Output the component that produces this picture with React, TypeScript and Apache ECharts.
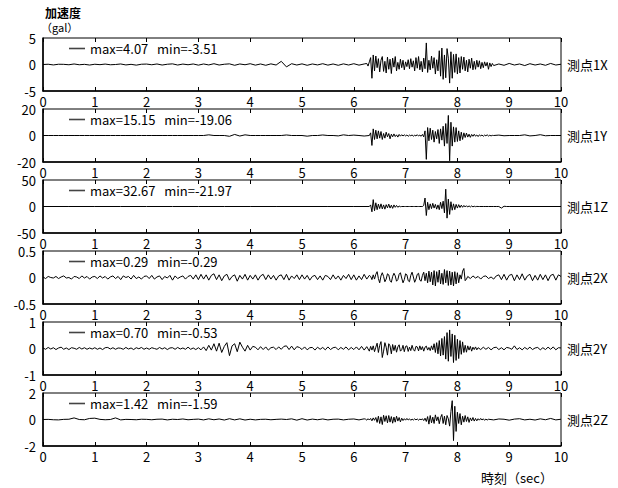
import React, { useEffect, useRef } from "react";
import * as echarts from "echarts";

const FONT = "'Noto Sans CJK JP', 'Noto Sans', sans-serif";
const GAP = "\u00a0\u00a0\u00a0";

// ---- Tick labels / panel labels ----
const STATION_LABELS = ["測点1X", "測点1Y", "測点1Z", "測点2X", "測点2Y", "測点2Z"];
const LEGEND_NAMES = [
  `max=4.07${GAP}min=-3.51`,
  `max=15.15${GAP}min=-19.06`,
  `max=32.67${GAP}min=-21.97`,
  `max=0.29${GAP}min=-0.29`,
  `max=0.70${GAP}min=-0.53`,
  `max=1.42${GAP}min=-1.59`,
];
const Y_LIMITS = [5, 20, 50, 0.5, 1, 2];
const X_MIN = 0;
const X_MAX = 10;

// ---- 測点1X ----
const P1X_PRE = [
  0, 0.05, -0.08, 0.05, 0.03, -0.05, 0.1, -0.05, 0.03, -0.1,
  0.05, -0.03, 0.08, -0.05, 0.0, 0.1, -0.08, 0.03, -0.12, 0.05,
  0.08, -0.05, 0.1, -0.1, 0.05, 0.12, -0.1, 0.08, -0.05, 0.1,
  -0.12, 0.1, -0.08, 0.15, -0.1, 0.05, 0.12, -0.15, 0.1, -0.05,
  0.15, -0.12, 0.1, -0.15, 0.12, -0.1, 0.6, -0.45, 0.15, -0.1,
  0.12, -0.15, 0.1, -0.08, 0.15, -0.12, 0.1, -0.15, 0.12, -0.1,
  0.15, -0.12, 0.1,
];
const P1X_ACT = [
  0.2, -0.3, 0.5, 1.3, -2.6, 1.8, -1.2, 1.6, -0.6, 1.1,
  -1.4, 0.8, 1.5, -1.3, 0.6, -1.6, 1.4, -0.9, 1.0, -1.7,
  1.2, -0.5, 1.5, -1.2, 0.4, -0.9, 1.0, -0.6, 0.8, -1.0,
  0.5, -0.4, 0.9, -0.8, 1.1, -0.5, 0.7, -1.2, 1.3, -0.7,
  1.5, -1.0, 0.6, -1.4, 1.2, -0.8, 4.07, -1.5, 0.8, -1.0,
  1.6, -0.7, 1.3, -1.8, 0.9, -1.2, 2.6, -2.2, 3.1, -2.8,
  1.8, -2.5, 3.0, 1.2, -3.51, 2.4, -2.6, 1.9, -1.5, 2.0,
  -1.8, 1.3, -1.6, 1.5, -0.9, 1.4, -1.2, 0.8, -1.4, 1.0,
  -0.7, 1.2, -1.0, 0.6, -0.9, 0.8, -0.5, 0.7, -0.8, 0.4,
  -0.6, 0.5, -0.3, 0.4, -0.9, 0.3, -0.4, 0.2, -0.2,
];
const P1X_POST = [0.1, -0.15, 0.2, -0.1, 0.1, -0.2, 0.15, -0.1, 0.1, -0.15, 0.2, -0.1, 0.05];

// ---- 測点1Y ----
const P1Y_PRE = [
  0, 0, 0, 0, 0, 0, 0, 0, 0, 0,
  0, 0, 0, 0, 0, 0, 0, 0, 0, 0,
  0, 0, 0, 0, 0, 0, 0, 0, 0, 0,
  0, 0, 0.5, 0, 0, 0, -0.6, 0.8, -0.4, 0.5,
  0, 0, 0, 0, 0, 0, 0, 0.4, 0, 0,
  0, -0.5, 0, 0, 0.4, 0, 0, -0.3, 0.5, 0,
  0.3, 0, -0.4,
];
const P1Y_ACT = [
  0, 2, -7.5, 5, -3, 4, -2.5, 3.5, -2, 3,
  -3, 1.5, -2, 2.5, -1, 1.5, -2.5, 1, -1, 1.2,
  -0.8, 0.5, -1.2, 0.8, -0.5, 0.6, -0.4, 0.5, -0.3, 0.4,
  -0.6, 0.3, -0.2, 0.4, -0.5, 0.2, -0.3, 0.6, -0.4, 0.3,
  -0.6, 0.8, -1.0, 3.5, -18, 6, -4, 5.5, -3, 4,
  -5, 3, -2.5, 4.5, -6, 5, -3.5, 7, -8, 9,
  -6, 15.15, -19.06, 10, -8, 6.5, -5, 6, -4.5, 3.5,
  -4, 2.5, -3, 2, -1.5, 1.8, -1.2, 1, -1.4, 0.8,
  -0.6, 0.9, -0.5, 0.4, -0.8, 0.5, -0.3, 0.4, -0.6, 0.3,
  -0.2, 0.5, -0.4, 0.2, -0.3, 0.1, 0,
];
const P1Y_POST = [0.3, -0.2, 0, 0, 0, 0.5, -0.3, 0, 0.6, -0.2, 0, 0, 0];

// ---- 測点1Z ----
const P1Z_PRE = [0, 0, 0, 0, 0, 0, 0, 0, 0, 0, 0, 0, 0];
const P1Z_ACT = [
  0, 3, -10, 13, -8, 7, -6, 4.5, -4, 5,
  -4.5, 3, -5, 3.5, -2.5, 4.5, -3, 2.5, -3.5, 3,
  -1.5, 2, -1.5, 0.8, -0.4, 0, 0, 0, 0, 0,
  0, 0, 0, 0, 0, 0, 0, 0, 0, 0,
  0, 0, 2, 16, -17, 8, -6, 5, -4, 6,
  -3, 4, -5, 3, -6, 8, -4, 10, -12, 32.67,
  -21.97, 14, -15, 9, -7, 5, -6, 4, -3, 3.5,
  -2, 2.5, -1.5, 2, -1, 1.5, -1, 1.2, -0.8, 1,
  -0.6, 0.5, -0.3, 0.2, 0, 0,
];
const P1Z_POST = [0, 0, 0, 0, 0, 0, 0, -3, 0.5, 0, 0];
const P1Z_END = [0];

// ---- 測点2X ----
const P2X_PRE = [
  0.01, -0.02, 0.02, 0.0, -0.01, 0.02, -0.02, 0.01, 0.03, -0.01, 0.0, -0.03, 0.02, 0.01, -0.02, 0.03, -0.01, 0.02, -0.03, 0.01,
  0.02, -0.02, 0.03, -0.01, 0.02, -0.03, 0.01, 0.03, -0.02, 0.02, -0.04, 0.03, 0.0, 0.02, -0.03, 0.04, -0.02, 0.01, -0.03, 0.02,
  0.03, -0.02, 0.04, -0.03, 0.01, 0.03, -0.04, 0.02, -0.01, 0.04, -0.05, 0.03, -0.02, 0.01, 0.03, -0.03, 0.02, 0.04, -0.03, 0.05,
  -0.04, 0.06, -0.03, 0.05, -0.05, 0.04, 0.07, -0.04, 0.05, -0.06, 0.03, 0.06, -0.05, 0.02, 0.05, -0.07, 0.04, -0.03, 0.06, -0.05,
  0.04, -0.03, 0.05, -0.05, 0.03, 0.06, -0.04, 0.05, -0.03, 0.04, -0.05, 0.03, 0.05, -0.04, 0.06, -0.05, 0.03, -0.02, 0.05, -0.04,
  0.05, -0.03, 0.04, -0.05, 0.02, 0.04, -0.04, 0.03, -0.05, 0.04, 0.02, -0.04, 0.05, -0.03, 0.03, -0.05, 0.04, -0.02, 0.06, -0.04,
  0.05, -0.05, 0.03, -0.04, 0.06, -0.03, 0.04,
];
const P2X_ACT = [
  0.02, -0.04, 0.05, -0.03, 0.06, 0.11, -0.02, -0.1, 0.03, 0.09,
  0.02, -0.08, -0.03, 0.07, 0.05, -0.06, -0.09, 0.02, 0.08, 0.03,
  -0.07, -0.04, 0.06, 0.09, -0.01, -0.1, -0.04, 0.07, 0.05, -0.06,
  -0.08, 0.04, 0.1, 0.01, -0.09, -0.03, 0.06, 0.08, -0.05, -0.07,
  0.04, 0.1, -0.06, 0.08, -0.1, 0.12, -0.08, 0.1, -0.14, 0.13,
  -0.16, 0.11, -0.09, 0.14, -0.12, 0.08, -0.13, 0.15, -0.1, 0.13,
  -0.15, 0.12, -0.14, 0.1, -0.16, 0.11, -0.12, 0.09, -0.1, 0.05,
  -0.03, 0.12, 0.17, -0.06, -0.03, 0.02,
];
const P2X_POST = [
  -0.02, 0.03, -0.01, 0.02, -0.03, 0.02, 0.03, -0.02, 0.01, -0.03, 0.03,
  0.05, -0.04, 0.06, -0.05, 0.04, 0.06, -0.06, 0.05, -0.04, 0.07, -0.05, 0.03, 0.06, -0.06, 0.04,
  -0.05, 0.06, -0.04, 0.05, -0.06, 0.04, 0.06, -0.05, 0.05, 0.02,
];

// ---- 測点2Y ----
const P2Y_PRE = [
  0.02, -0.03, 0.04, -0.02, 0.03, -0.04, 0.02, 0.05, -0.03, 0.02, -0.04, 0.03, 0.01, -0.03, 0.04, -0.02, 0.03, -0.03, 0.02, -0.02,
  0.03, -0.03, 0.02, -0.04, 0.03, 0.04, -0.02, 0.03, -0.03, 0.02, 0.01, -0.03, 0.04, -0.02, 0.02, -0.04, 0.03, -0.01, 0.04, -0.03,
  0.02, -0.03, 0.03, 0.0, -0.03, 0.04, -0.02, 0.03, -0.04, 0.02, 0.03, -0.03, 0.04, -0.02, 0.02, -0.03, 0.05, -0.03, 0.02, -0.04,
  0.03, -0.05, 0.06, -0.08, 0.12, -0.06, 0.18, -0.1, 0.2, -0.15, 0.08, 0.22, -0.27, 0.1, 0.18, -0.12, 0.24, 0.05, -0.1, 0.12,
  -0.06, 0.08, 0.05, -0.05, 0.07, -0.04, 0.06, -0.06, 0.03, 0.05, -0.04, 0.06, -0.03, 0.08, 0.1, -0.04, 0.09, -0.05, 0.07, 0.04,
  -0.04, 0.06, -0.05, 0.03, 0.04, -0.06, 0.05, -0.03, 0.04, -0.05, 0.06, -0.04, 0.03, 0.05, -0.05, 0.04, -0.03, 0.06, -0.05, 0.04,
  -0.04, 0.06, -0.05, 0.08, -0.06, 0.07, -0.1,
];
const P2Y_ACT = [
  0.08, -0.06, 0.1, -0.12, 0.05, 0.2, -0.15, 0.12, 0.26, -0.34,
  -0.1, 0.22, 0.05, -0.25, 0.18, 0.1, -0.2, 0.15, -0.08, 0.12,
  -0.14, 0.06, 0.14, -0.1, -0.05, 0.12, -0.12, 0.08, 0.1, -0.11,
  0.05, -0.08, 0.12, -0.04, -0.1, 0.08, 0.06, -0.09, 0.1, -0.05,
  0.07, -0.1, 0.05, 0.09, -0.06, 0.04, -0.08, 0.1, -0.05, 0.18,
  -0.15, 0.22, -0.2, 0.3, -0.28, 0.38, -0.25, 0.45, -0.4, 0.6,
  -0.48, 0.7, -0.3, 0.55, -0.53, 0.5, -0.45, 0.35, -0.38, 0.3,
  -0.22, 0.25, -0.15, 0.12, -0.14, 0.1, -0.06, 0.08, -0.1, 0.05,
  -0.04, 0.06, -0.05, 0.03,
];
const P2Y_POST = [
  -0.04, 0.05, -0.03, 0.04, -0.05, 0.03, 0.05, -0.04, 0.03, -0.05, 0.04, 0.02, -0.03, 0.1, -0.04, 0.03,
  -0.05, 0.04, -0.03, 0.05, -0.04, 0.02, 0.04, -0.05, 0.03, -0.04, 0.05, -0.03, 0.06, -0.05, 0.03, 0.02,
];

// ---- 測点2Z ----
const P2Z_PRE = [
  0, 0.01, -0.02, -0.03, 0.01, 0.02, 0.12, 0, -0.02, 0.08,
  0.1, 0.01, -0.02, 0, 0.12, -0.03, 0.01, 0, -0.02, 0.02,
  0.01, -0.02, 0.02, 0.03, -0.03, 0.02, 0, 0.04, -0.02, 0.01,
  0.03, -0.03, 0.05, -0.02, 0.04, -0.04, 0.06, -0.03, 0.05, -0.04,
  0.02, -0.03, 0.01, 0.02, -0.02, 0.01, 0.03, 0, 0.05, -0.05,
  0.06, -0.04, 0.03, -0.02, 0.04, -0.03, 0.02, 0.03, -0.03, 0.02,
  0.04, -0.03, 0.05,
];
const P2Z_ACT = [
  0.03, -0.05, 0.06, -0.04, 0.08, -0.1, 0.12, -0.06, 0.15, -0.22,
  0.25, -0.3, 0.2, -0.38, 0.32, -0.15, 0.28, -0.25, 0.3, -0.2,
  0.22, -0.28, 0.18, -0.2, 0.25, -0.12, 0.15, -0.18, 0.1, -0.08,
  0.06, -0.05, 0.08, -0.04, 0.05, -0.06, 0.03, -0.04, 0.05, -0.03,
  0.04, -0.05, 0.03, -0.02, 0.05, -0.08, 0.1, -0.15, 0.22, -0.35,
  0.3, -0.25, 0.18, -0.3, 0.35, -0.1, 0.2, -0.32, 0.15, 0.38,
  -0.3, 0.25, -0.4, 0.3, 0.05, -0.5, 0.6, 1.42, -1.59, 1.0,
  -0.9, 0.55, -0.3, 0.45, -0.4, 0.25, -0.2, 0.3, -0.15, 0.2,
  -0.22, 0.12, -0.1, 0.15, -0.12, 0.08, -0.1, 0.06, -0.05, 0.08,
  -0.04, 0.05, -0.06, 0.03, -0.04, 0.02,
];
const P2Z_POST = [-0.03, 0.04, 0.02, -0.05, 0.03, 0.06, -0.03, 0.02, -0.04, 0.05, -0.02, 0.08, -0.03, 0.02];

function seg(t0: number, dt: number, vals: number[]) {
  return vals.map((v, i) => [Math.round((t0 + i * dt) * 1000) / 1000, v]);
}

const SERIES_DATA = [
  [...seg(0, 0.1, P1X_PRE), ...seg(6.25, 0.025, P1X_ACT), ...seg(8.8, 0.1, P1X_POST)],
  [...seg(0, 0.1, P1Y_PRE), ...seg(6.3, 0.025, P1Y_ACT), ...seg(8.8, 0.1, P1Y_POST)],
  [...seg(0, 0.5, P1Z_PRE), ...seg(6.3, 0.025, P1Z_ACT), ...seg(8.5, 0.05, P1Z_POST), ...seg(10, 1, P1Z_END)],
  [...seg(0, 0.05, P2X_PRE), ...seg(6.325, 0.025, P2X_ACT), ...seg(8.25, 0.05, P2X_POST)],
  [...seg(0, 0.05, P2Y_PRE), ...seg(6.325, 0.025, P2Y_ACT), ...seg(8.45, 0.05, P2Y_POST)],
  [...seg(0, 0.1, P2Z_PRE), ...seg(6.225, 0.025, P2Z_ACT), ...seg(8.7, 0.1, P2Z_POST)],
];

const GRID_LEFT = 43;
const GRID_WIDTH = 518;
const GRID_TOP0 = 38;
const GRID_STEP = 71;
const GRID_HEIGHT = 53;

export default function App() {
  const ref = useRef<HTMLDivElement>(null);
  useEffect(() => {
    if (!ref.current) return;
    const chart = echarts.init(ref.current, null, { renderer: "svg" });
    const n = SERIES_DATA.length;
    const grids: any[] = [];
    const xAxes: any[] = [];
    const yAxes: any[] = [];
    const series: any[] = [];
    const legends: any[] = [];
    const graphics: any[] = [];
    for (let i = 0; i < n; i++) {
      const top = GRID_TOP0 + GRID_STEP * i;
      grids.push({
        left: GRID_LEFT,
        top,
        width: GRID_WIDTH,
        height: GRID_HEIGHT,
        show: true,
        borderColor: "#000",
        borderWidth: 1,
        backgroundColor: "transparent",
      });
      xAxes.push({
        type: "value",
        gridIndex: i,
        position: "bottom",
        min: X_MIN,
        max: X_MAX,
        interval: 1,
        axisLine: { show: true, onZero: false, lineStyle: { color: "#000", width: 1.5 } },
        axisTick: { show: true, inside: true, length: 4, lineStyle: { color: "#000", width: 1 } },
        axisLabel: { show: true, color: "#000", fontSize: 13, lineHeight: 13, fontFamily: FONT, margin: 4 },
        splitLine: { show: false },
      });
      xAxes.push({
        type: "value",
        gridIndex: i,
        position: "top",
        min: X_MIN,
        max: X_MAX,
        interval: 1,
        axisLine: { show: false, onZero: false },
        axisTick: { show: true, inside: true, length: 4, lineStyle: { color: "#000", width: 1 } },
        axisLabel: { show: false },
        splitLine: { show: false },
      });
      const lim = Y_LIMITS[i];
      yAxes.push({
        type: "value",
        gridIndex: i,
        min: -lim,
        max: lim,
        interval: lim,
        axisLine: { show: true, onZero: false, lineStyle: { color: "#000", width: 1.5 } },
        axisTick: { show: false },
        axisLabel: { show: true, color: "#000", fontSize: 13, lineHeight: 13, fontFamily: FONT, margin: 7 },
        splitLine: { show: false },
      });
      series.push({
        name: LEGEND_NAMES[i],
        type: "line",
        xAxisIndex: 2 * i,
        yAxisIndex: i,
        data: SERIES_DATA[i],
        showSymbol: false,
        symbol: "none",
        lineStyle: { color: "#000", width: 1 },
        itemStyle: { color: "#444" },
        silent: true,
      });
      legends.push({
        data: [LEGEND_NAMES[i]],
        left: 69,
        top: top + 4,
        padding: 0,
        itemWidth: 16,
        itemHeight: 1.6,
        itemGap: 0,
        icon: "rect",
        selectedMode: false,
        textStyle: { color: "#000", fontSize: 13, lineHeight: 13, fontFamily: FONT },
      });
      graphics.push({
        type: "text",
        x: 567,
        y: top + GRID_HEIGHT / 2,
        style: {
          text: STATION_LABELS[i],
          fill: "#000",
          font: `13px ${FONT}`,
          verticalAlign: "middle",
          align: "left",
        },
      });
    }
    graphics.push({
      type: "text",
      x: 45,
      y: 12,
      style: { text: "加速度", fill: "#000", font: `bold 12px ${FONT}`, verticalAlign: "middle" },
    });
    graphics.push({
      type: "text",
      x: 41,
      y: 27,
      style: { text: "（gal）", fill: "#000", font: `11px ${FONT}`, verticalAlign: "middle" },
    });
    graphics.push({
      type: "text",
      x: 481,
      y: 477,
      style: { text: "時刻（sec）", fill: "#000", font: `13px ${FONT}`, verticalAlign: "middle" },
    });
    chart.setOption({
      animation: false,
      backgroundColor: "#fff",
      grid: grids,
      xAxis: xAxes,
      yAxis: yAxes,
      series,
      legend: legends,
      graphic: graphics,
    });
    return () => chart.dispose();
  }, []);
  return (
    <div
      ref={ref}
      style={{ position: "fixed", left: 0, top: 0, width: 618, height: 488, background: "#fff" }}
    />
  );
}
